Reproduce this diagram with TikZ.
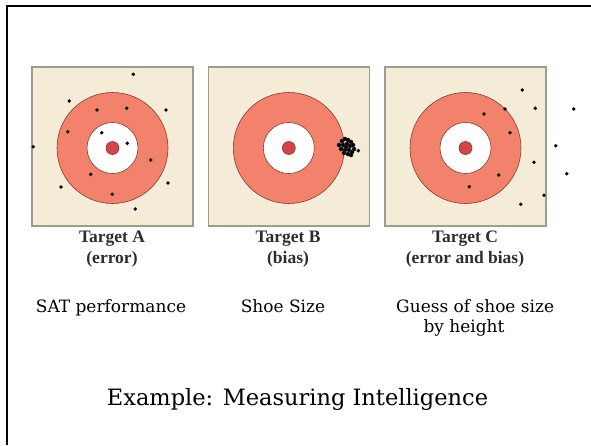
\documentclass[tikz,border=0pt]{standalone}
\usepackage{fontspec}
\setmainfont{DejaVu Serif}
\newfontfamily\labelfont{Liberation Serif}
\usetikzlibrary{positioning}

\definecolor{cream}{RGB}{245,236,216}
\definecolor{boxgray}{RGB}{158,155,146}
\definecolor{ringred}{RGB}{242,130,108}
\definecolor{ringline}{RGB}{135,58,45}
\definecolor{bullred}{RGB}{212,68,72}
\definecolor{labelgray}{RGB}{45,45,45}

\begin{document}
\begin{tikzpicture}[x=1pt,y=-1pt,
target/.style={draw=boxgray,line width=1.5pt,fill=cream},
ring/.style={draw=ringline,line width=0.6pt},
hit/.style={fill=black},
tlabel/.style={font=\labelfont\bfseries\fontsize{17.5}{21}\selectfont,text=labelgray,align=center},
caption/.style={font=\fontsize{17}{20}\selectfont,anchor=base}]
\useasboundingbox (0,0) rectangle (591,445);
% slide frame
\draw[line width=2.5pt] (7,445) |- (591,6);

% the three targets
\foreach \cx in {112.5,288.8,465.5}{
  \draw[target] (\cx-80.5,67) rectangle (\cx+80.5,226);
  \filldraw[ring,fill=ringred] (\cx,148) circle[radius=55.5];
  \filldraw[ring,fill=white] (\cx,148) circle[radius=25.5];
  \filldraw[ring,fill=bullred] (\cx,148) circle[radius=6.5];
}

% hits on target A
\foreach \hx/\hy in {133.3/74.3,69.3/101,97/110,126.7/108.3,166/110,67.7/131.7,
  33.3/146.7,101.7/132.7,127.3/143.3,150.7/160,90.7/174.3,61/187,168/183,
  112.3/194.3,135.3/209}
  \fill[hit] (\hx,\hy) circle[radius=1.9];

% hits on target B
\foreach \hx/\hy in {342/141,345/139,348/140,351/142,343/145,347/144,350/146,
  353/145,341/149,345/150,349/150,352/152,344/153,348/154,351/155,346/147,
  339/145,354/149}
  \filldraw[hit,draw=darkgray,line width=0.3pt] (\hx,\hy) circle[radius=2.1];
\fill[hit] (358.3,150.7) circle[radius=1.9];

% hits on target C
\foreach \hx/\hy in {522.3/90,505/109,535.3/108.3,573.7/109,484/114,510/132.7,
  555.7/145.7,534/162.3,566.7/173.7,498.7/175,469.3/186.7,544/195.3,520.7/204.3}
  \fill[hit] (\hx,\hy) circle[radius=1.9];

\node[tlabel] (labelA) at (112,249) {Target A\\(error)};
\node[tlabel] (labelB) at (288,249) {Target B\\(bias)};
\node[tlabel] (labelC) at (465,249) {Target C\\(error and bias)};

\node[caption] (sat) at (111,312) {SAT performance};
\node[caption] (shoe) at (283,312) {Shoe Size};
\node[caption,anchor=base west] (guess) at (392.7,312) {Guess of shoe size};
\node[caption,anchor=base west] (height) at (420,332) {by height};

\node[caption,font=\fontsize{22.5}{27}\selectfont] (title) at (297.5,405)
  {Example: Measuring Intelligence};
\end{tikzpicture}
\end{document}
